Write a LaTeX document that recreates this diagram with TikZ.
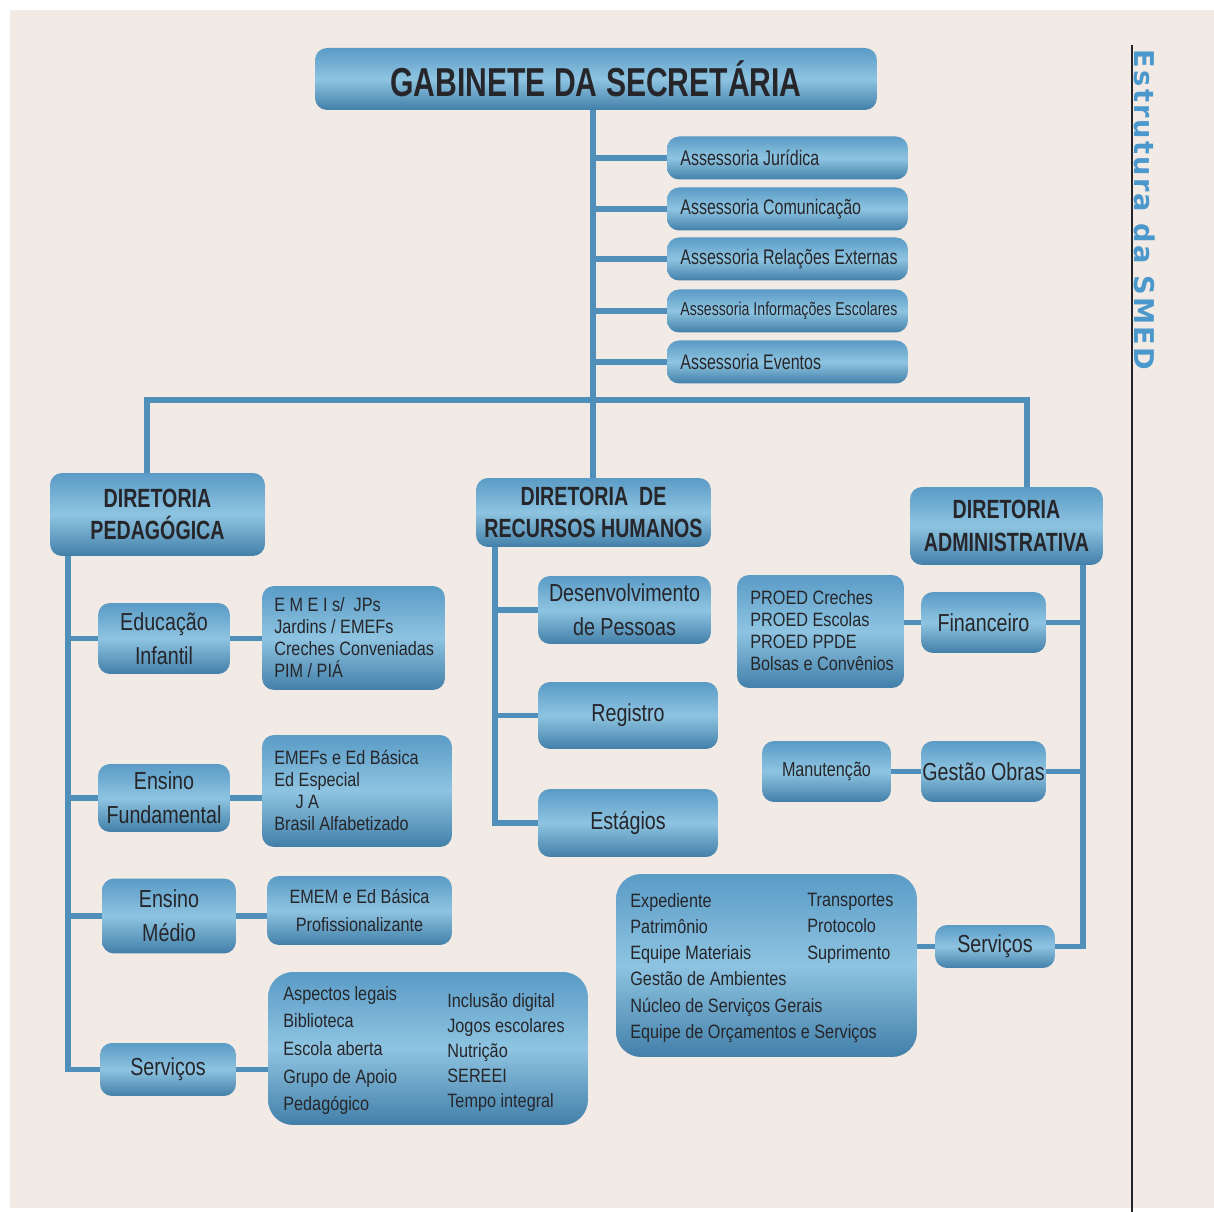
\documentclass[tikz,border=0pt]{standalone}
\usepackage{fontspec}
\setmainfont{Liberation Sans}[FakeStretch=0.84]
\newfontfamily\smedfont{DejaVu Sans}[LetterSpace=8]
\newfontfamily\nbold{Liberation Sans}[FakeStretch=0.745]
\newfontfamily\nass{Liberation Sans}[FakeStretch=0.76]
\newfontfamily\nsub{Liberation Sans}[FakeStretch=0.80]
\definecolor{paper}{HTML}{F2EAE5}
\definecolor{boxtop}{HTML}{5A9BC6}
\definecolor{boxmid}{HTML}{8EC4E1}
\definecolor{boxbot}{HTML}{427FA9}
\definecolor{conn}{HTML}{4F8FBA}
\definecolor{ink}{HTML}{26262A}
\definecolor{smed}{HTML}{4A98CC}
\newcommand{\fs}[2]{\fontsize{#1}{#2}\selectfont}
\tikzset{
  box/.style={rounded corners=0.24cm, top color=boxtop, bottom color=boxbot,
    middle color=boxmid, draw=none, inner sep=0pt, text=ink, align=center},
  bigbox/.style={box, rounded corners=0.5cm},
  conn/.style={draw=conn, line width=3.4pt},
  lst/.style={inner sep=0pt, align=left, text=ink, anchor=north west},
  titlef/.style={font=\nbold\bfseries\fs{15}{18.7}},
  subf/.style={font=\nsub\fs{14}{19.3}},
  listf/.style={font=\fs{11}{12.5}},
  ass/.style={box, minimum width=4.82cm, minimum height=0.86cm},
  asst/.style={inner sep=0pt, text=ink, anchor=west, font=\nass\fs{12}{14}},
}
\begin{document}
\begin{tikzpicture}[x=0.02cm, y=-0.02cm]
\useasboundingbox (0,0) rectangle (1214,1212);
\fill[white] (0,0) rectangle (1214,1212);
\fill[paper] (10,10) rectangle (1214,1208);
\draw[ink, line width=0.6pt] (1132,45) -- (1132,1212);
\node[font=\smedfont\bfseries\fs{15.5}{18}, text=smed, rotate=-90, inner sep=0pt] (smed) at (1145,210) {Estrutura da SMED};

% top
\node[box, minimum width=11.24cm, minimum height=1.24cm, font=\nbold\bfseries\fs{23}{26}] (gab) at (596,79) {GABINETE DA SECRETÁRIA};
\node[ass] (a1) at (787.5,158) {};
\node[ass] (a2) at (787.5,209) {};
\node[ass] (a3) at (787.5,259) {};
\node[ass] (a4) at (787.5,311) {};
\node[ass] (a5) at (787.5,362) {};
\node[asst] (a1t) at (680,158) {Assessoria Jurídica};
\node[asst] (a2t) at (680,209) {Assessoria Comunicação};
\node[asst] (a3t) at (680,259) {Assessoria Relações Externas};
\node[asst, font=\nass\fs{10.6}{12}] (a4t) at (680,311) {Assessoria Informações Escolares};
\node[asst] (a5t) at (680,362) {Assessoria Eventos};

% directors
\node[box, titlef, minimum width=4.3cm, minimum height=1.66cm] (ped) at (157.5,514.5) {DIRETORIA\\PEDAGÓGICA};
\node[box, titlef, minimum width=4.7cm, minimum height=1.38cm] (rh) at (593.5,512.5) {DIRETORIA~~DE\\RECURSOS HUMANOS};
\node[box, titlef, minimum width=3.86cm, minimum height=1.56cm] (adm) at (1006.5,526) {DIRETORIA\\ADMINISTRATIVA};

% trunk and bus
\coordinate (trunk) at (593,110);
\coordinate (bus) at (593,400);
\coordinate (pdrop) at (147,473);
\coordinate (adrop) at (1027,487);
\draw[conn] (rh.north -| trunk) -- (trunk);
\draw[conn] (pdrop) |- (bus) -| (adrop);
\foreach \n in {a1,a2,a3,a4,a5}{\draw[conn] (\n.west) -- (\n.west -| trunk);}

% pedagogica branch
\node[box, subf, minimum width=2.64cm, minimum height=1.42cm] (edinf) at (164,638.5) {Educação\\Infantil};
\node[box, minimum width=3.66cm, minimum height=2.08cm] (l1) at (353.5,638) {};
\node[lst, listf] (l1t) at (274,597) {E M E I s/~~JPs\\Jardins / EMEFs\\Creches Conveniadas\\PIM / PIÁ};
\node[box, subf, minimum width=2.64cm, minimum height=1.36cm] (ensf) at (164,798) {Ensino\\Fundamental};
\node[box, minimum width=3.8cm, minimum height=2.24cm] (l2) at (357,791) {};
\node[lst, listf, font=\fs{11}{12.6}] (l2t) at (274,750) {EMEFs e Ed Básica\\Ed Especial\\\hspace*{1.1em}J A\\Brasil Alfabetizado};
\node[box, subf, minimum width=2.68cm, minimum height=1.5cm] (ensm) at (169,916) {Ensino\\Médio};
\node[box, minimum width=3.7cm, minimum height=1.38cm, font=\fs{11}{15.9}] (l3) at (359.5,910.5) {EMEM e Ed Básica\\Profissionalizante};
\node[box, subf, minimum width=2.72cm, minimum height=1.06cm] (sped) at (168,1069.5) {Serviços};
\node[bigbox, minimum width=6.4cm, minimum height=3.06cm] (l4) at (428,1048.5) {};
\node[lst, font=\fs{11}{15.7}] (l4a) at (283,986) {Aspectos legais\\Biblioteca\\Escola aberta\\Grupo de Apoio\\Pedagógico};
\node[lst, font=\fs{11}{14.3}] (l4b) at (447,993) {Inclusão digital\\Jogos escolares\\Nutrição\\SEREEI\\Tempo integral};

\coordinate (pspine) at (68,556);
\draw[conn] (pspine) |- (sped.west);
\foreach \n in {edinf,ensf,ensm}{\draw[conn] (\n.west) -- (\n.west -| pspine);}
\draw[conn] (edinf.east) -- (edinf.east -| l1.west);
\draw[conn] (ensf.east) -- (ensf.east -| l2.west);
\draw[conn] (ensm.east) -- (ensm.east -| l3.west);
\draw[conn] (sped.east) -- (sped.east -| l4.west);

% RH branch
\node[box, subf, minimum width=3.46cm, minimum height=1.36cm] (dp) at (624.5,610) {Desenvolvimento\\de Pessoas};
\node[box, subf, minimum width=3.6cm, minimum height=1.34cm] (reg) at (628,715.5) {Registro};
\node[box, subf, minimum width=3.6cm, minimum height=1.36cm] (est) at (628,823) {Estágios};
\coordinate (rspine) at (495,547);
\draw[conn] (rspine) |- (est.west);
\foreach \n in {dp,reg}{\draw[conn] (\n.west) -- (\n.west -| rspine);}

% Administrativa branch
\node[box, subf, minimum width=2.5cm, minimum height=1.22cm] (fin) at (983.5,622.5) {Financeiro};
\node[box, minimum width=3.34cm, minimum height=2.26cm] (proed) at (820.5,631.5) {};
\node[lst, listf] (proedt) at (750,590) {PROED Creches\\PROED Escolas\\PROED PPDE\\Bolsas e Convênios};
\node[box, subf, minimum width=2.5cm, minimum height=1.22cm] (gob) at (983.5,771.5) {Gestão Obras};
\node[box, font=\nsub\fs{11.5}{14}, minimum width=2.58cm, minimum height=1.22cm] (man) at (826.5,771.5) {Manutenção};
\node[box, subf, minimum width=2.4cm, minimum height=0.86cm] (sadm) at (995,946.5) {Serviços};
\node[bigbox, minimum width=6.02cm, minimum height=3.66cm] (l5) at (766.5,965.5) {};
\node[lst, font=\fs{11}{14.9}] (l5a) at (630,893) {Expediente\\Patrimônio\\Equipe Materiais\\Gestão de Ambientes\\Núcleo de Serviços Gerais\\Equipe de Orçamentos e Serviços};
\node[lst, font=\fs{11}{14.9}] (l5b) at (807,893) {Transportes\\Protocolo\\Suprimento};

\coordinate (aspine) at (1083,565);
\draw[conn] (aspine) |- (sadm.east);
\foreach \n in {fin,gob}{\draw[conn] (\n.east) -- (\n.east -| aspine);}
\draw[conn] (proed.east |- fin.west) -- (fin.west);
\draw[conn] (man.east) -- (gob.west);
\draw[conn] (l5.east |- sadm.west) -- (sadm.west);
\end{tikzpicture}
\end{document}
